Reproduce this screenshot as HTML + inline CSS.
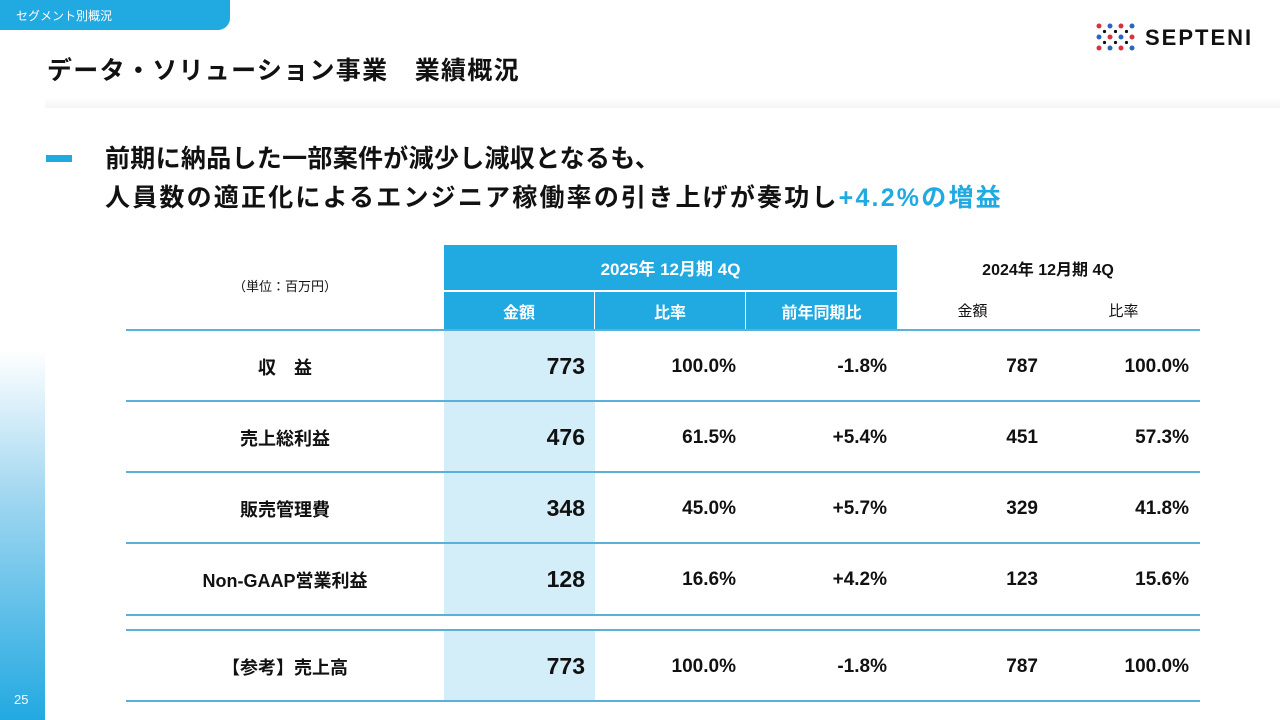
<!DOCTYPE html>
<html><head><meta charset="utf-8">
<style>
*{margin:0;padding:0;box-sizing:border-box}
body{width:1280px;height:720px;overflow:hidden;background:#fff;position:relative;font-family:"Liberation Sans","Noto Sans CJK JP",sans-serif;color:#111}
.a{position:absolute}
.c{position:absolute;display:flex;align-items:center;font-weight:bold}
.line{position:absolute;left:126px;width:1074px;height:2px;background:#5ab0d8}
</style></head><body>
<div class="a" style="left:0;top:0;width:230px;height:30px;background:#21a9e1;border-bottom-right-radius:12px;color:#fff;font-size:12px;padding:7px 0 0 16px">セグメント別概況</div>
<div class="a" style="left:47px;top:51px;font-size:25px;font-weight:bold;letter-spacing:1.3px">データ・ソリューション事業　業績概況</div>
<div class="a" style="left:1095px;top:22px;width:175px;height:30px">
<svg width="46" height="30" style="position:absolute;left:0;top:0">
<g fill="#d8323a"><circle cx="4" cy="4" r="2.5"/><circle cx="26" cy="4" r="2.5"/><circle cx="15" cy="15" r="2.5"/><circle cx="37" cy="15" r="2.5"/><circle cx="4" cy="26" r="2.5"/><circle cx="26" cy="26" r="2.5"/></g>
<g fill="#2a66c0"><circle cx="15" cy="4" r="2.5"/><circle cx="37" cy="4" r="2.5"/><circle cx="4" cy="15" r="2.5"/><circle cx="26" cy="15" r="2.5"/><circle cx="15" cy="26" r="2.5"/><circle cx="37" cy="26" r="2.5"/></g>
<g fill="#111"><circle cx="9.5" cy="9.5" r="1.6"/><circle cx="20.5" cy="9.5" r="1.6"/><circle cx="31.5" cy="9.5" r="1.6"/><circle cx="9.5" cy="20.5" r="1.6"/><circle cx="20.5" cy="20.5" r="1.6"/><circle cx="31.5" cy="20.5" r="1.6"/></g>
</svg>
<div class="a" style="left:50px;top:3px;font-size:22px;font-weight:bold;letter-spacing:2px">SEPTENI</div></div>
<div class="a" style="left:40px;top:98px;width:1240px;height:622px;background:linear-gradient(#fff,#f6f6f6 9px,#fff 22px)"></div>
<div class="a" style="left:45px;top:108px;width:1235px;height:612px;background:#fff"></div>
<div class="a" style="left:0;top:100px;width:45px;height:620px;background:linear-gradient(#fff 0,#fff 250px,#9fd6f0 400px,#22a9e1 620px)"></div>
<div class="a" style="left:14px;top:692px;font-size:13px;color:#fff">25</div>
<div class="a" style="left:46px;top:155px;width:26px;height:7px;background:#21a9e1"></div>
<div class="a" style="left:105px;top:140px;font-size:25px;font-weight:bold;line-height:39px;letter-spacing:0.3px;white-space:nowrap">前期に納品した一部案件が減少し減収となるも、<br><span style="letter-spacing:2.2px">人員数の適正化によるエンジニア稼働率の引き上げが奏功し<span style="color:#21a9e1">+4.2%の増益</span></span></div>

<div class="a" style="left:444px;top:330px;width:151px;height:285px;background:#d3edf9"></div>
<div class="a" style="left:444px;top:630px;width:151px;height:70px;background:#d3edf9"></div>
<div class="c" style="left:444px;top:245px;width:453px;height:45px;background:#21a9e1;color:#fff;justify-content:center;font-size:17px">2025年 12月期 4Q</div>
<div class="c" style="left:444px;top:292px;width:150px;height:37px;background:#21a9e1;color:#fff;justify-content:center;font-size:16px">金額</div>
<div class="c" style="left:595px;top:292px;width:150px;height:37px;background:#21a9e1;color:#fff;justify-content:center;font-size:16px">比率</div>
<div class="c" style="left:746px;top:292px;width:151px;height:37px;background:#21a9e1;color:#fff;justify-content:center;font-size:16px">前年同期比</div>
<div class="c" style="left:897px;top:245px;width:302px;height:45px;justify-content:center;font-size:16px">2024年 12月期 4Q</div>
<div class="c" style="left:897px;top:292px;width:151px;height:37px;justify-content:center;font-size:15px;font-weight:normal">金額</div>
<div class="c" style="left:1048px;top:292px;width:151px;height:37px;justify-content:center;font-size:15px;font-weight:normal">比率</div>
<div class="c" style="left:126px;top:270px;width:318px;height:30px;justify-content:center;font-size:13px;font-weight:normal">（単位：百万円）</div>
<div id="rows"></div>
<script>
const labels=["収　益","売上総利益","販売管理費","Non-GAAP営業利益","【参考】売上高"];
const amount25=["773","476","348","128","773"];
const ratio25=["100.0%","61.5%","45.0%","16.6%","100.0%"];
const yoy=["-1.8%","+5.4%","+5.7%","+4.2%","-1.8%"];
const amount24=["787","451","329","123","787"];
const ratio24=["100.0%","57.3%","41.8%","15.6%","100.0%"];
const rowTops=[331,402,473,544,631];
const root=document.getElementById('rows');
function cell(l,t,w,txt,fs,name){const d=document.createElement('div');d.className='c';d.style.cssText=`left:${l}px;top:${t}px;width:${w}px;height:71px;font-size:${fs}px;justify-content:flex-end;`;d.textContent=txt;


root.appendChild(d);return d;}
labels.forEach((lb,i)=>{const t=rowTops[i];
const l=cell(126,t,318,lb,18,'row-label');l.style.justifyContent='center';
cell(444,t,141,amount25[i],23,'amount-2025');
cell(595,t,141,ratio25[i],19,'ratio-2025');
cell(746,t,141,yoy[i],19,'yoy-change');
cell(897,t,141,amount24[i],19,'amount-2024');
cell(1048,t,141,ratio24[i],19,'ratio-2024');
});
[329,400,471,542,614,629,700].forEach(y=>{const d=document.createElement('div');d.className='line';d.style.top=y+'px';


root.appendChild(d);});
</script>
</body></html>
